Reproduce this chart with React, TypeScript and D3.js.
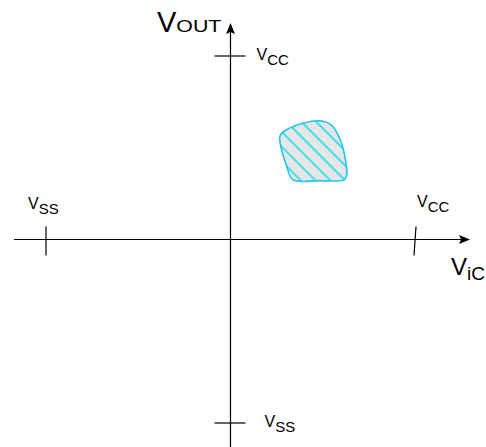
import React from "react";
import * as d3 from "d3";

const W = 486;
const H = 447;

// axis domain: VSS = -1, VCC = +1
const xTicks = [
  { value: -1, main: "V", sub: "SS" },
  { value: 1, main: "V", sub: "CC" },
];
const yTicks = [
  { value: 1, main: "V", sub: "CC" },
  { value: -1, main: "V", sub: "SS" },
];
const xAxisTitle = { main: "V", sub: "iC" };
const yAxisTitle = { main: "V", sub: "OUT" };

// operating region outline (data coords)
const regionX = [0.269, 0.32, 0.392, 0.482, 0.546, 0.591, 0.618, 0.63, 0.618, 0.482, 0.338, 0.302, 0.275];
const regionY = [0.567, 0.607, 0.634, 0.647, 0.625, 0.553, 0.462, 0.353, 0.326, 0.321, 0.326, 0.408, 0.498];

const FONT = "'Liberation Sans', Arial, sans-serif";

export default function App() {
  const x = d3.scaleLinear().domain([-1, 1]).range([46, 415]);
  const y = d3.scaleLinear().domain([-1, 1]).range([423, 56]);
  const x0 = x(0);
  const y0 = y(0);

  const pts: [number, number][] = regionX.map((v, i) => [x(v), y(regionY[i])]);
  const region = d3.line().curve(d3.curveCatmullRomClosed.alpha(0.5))(pts) || "";

  return (
    <div style={{ position: "absolute", left: 0, top: 0 }}>
      <svg width={W} height={H} style={{ display: "block", background: "#fff" }} fontFamily={FONT}>
        <defs>
          <pattern id="hatch" patternUnits="userSpaceOnUse" width={10.5} height={10.5} patternTransform="rotate(-45)">
            <rect width={10.5} height={10.5} fill="#e6e6e6" />
            <line x1={1} y1={0} x2={1} y2={10.5} stroke="#3ee0ea" strokeWidth={2} />
          </pattern>
        </defs>

        {/* horizontal axis */}
        <line x1={14} y1={y0} x2={462} y2={y0} stroke="#000" strokeWidth={1.2} />
        <path d={`M470,${y0} L459,${y0 - 4.5} L461,${y0} L459,${y0 + 4.5} Z`} fill="#000" />
        {/* vertical axis */}
        <line x1={x0} y1={H} x2={x0} y2={32} stroke="#000" strokeWidth={1.2} />
        <path d={`M${x0},23 L${x0 - 4.5},34 L${x0},32 L${x0 + 4.5},34 Z`} fill="#000" />

        {/* x ticks */}
        {xTicks.map((t, i) => {
          const px = x(t.value);
          const tilt = t.value > 0 ? 1 : 0;
          return (
            <g key={"x" + i}>
              <line x1={px + tilt} y1={y0 - 13} x2={px - tilt} y2={y0 + 16} stroke="#000" strokeWidth={1.2} />
              <text x={px - 18 + (t.value > 0 ? 20 : 0)} y={y0 - 31 + (t.value > 0 ? -2 : 0)} fontSize={16}>
                {t.main}
                <tspan fontSize={15} dy={5}>{t.sub}</tspan>
              </text>
            </g>
          );
        })}

        {/* y ticks */}
        {yTicks.map((t, i) => {
          const py = y(t.value);
          return (
            <g key={"y" + i}>
              <line x1={x0 - 16} y1={py} x2={x0 + 15} y2={py} stroke="#000" strokeWidth={1.2} />
              <text x={x0 + 26 + (t.value < 0 ? 8 : 0)} y={py + 4} fontSize={16}>
                {t.main}
                <tspan fontSize={15} dy={5}>{t.sub}</tspan>
              </text>
            </g>
          );
        })}

        {/* axis titles */}
        <text x={157} y={32} fontSize={29}>
          {yAxisTitle.main}
          <tspan fontSize={16} dx={0} textLength={45} lengthAdjust="spacingAndGlyphs">{yAxisTitle.sub}</tspan>
        </text>
        <text x={451} y={275} fontSize={24}>
          {xAxisTitle.main}
          <tspan fontSize={19} dy={5}>{xAxisTitle.sub}</tspan>
        </text>

        {/* operating region */}
        <path d={region} fill="url(#hatch)" stroke="#22c3f0" strokeWidth={1.6} />
      </svg>
    </div>
  );
}
